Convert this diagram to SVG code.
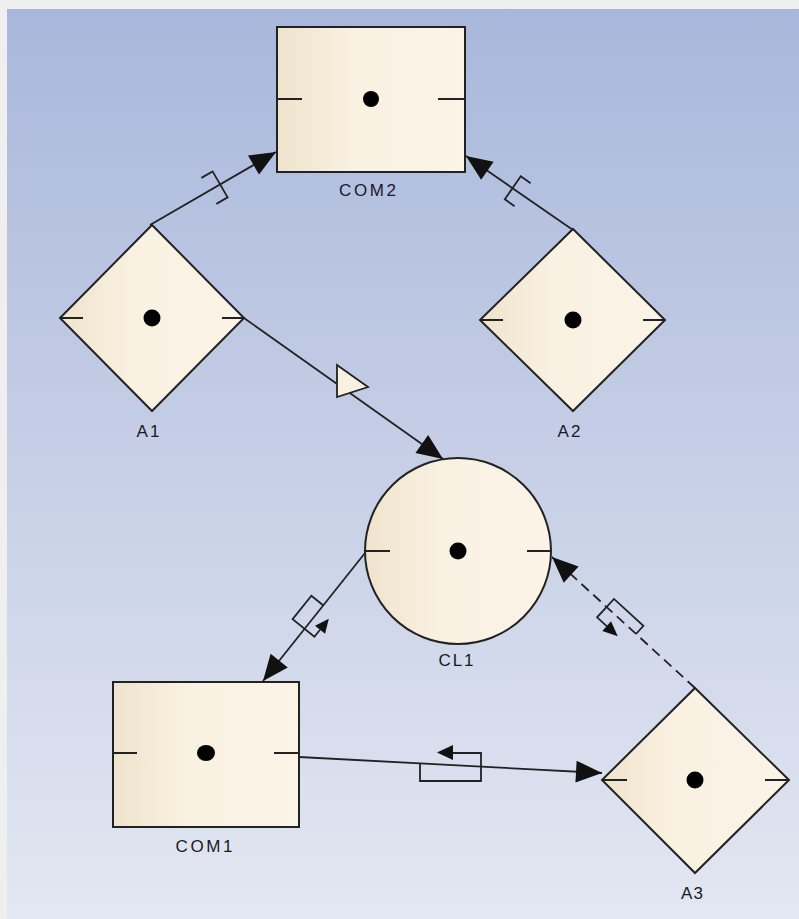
<svg xmlns="http://www.w3.org/2000/svg" width="799" height="919" viewBox="0 0 799 919">
<defs>
<linearGradient id="bg" x1="0" y1="0" x2="0" y2="1">
<stop offset="0" stop-color="#a8b7db"/>
<stop offset="0.5" stop-color="#c6cfe6"/>
<stop offset="1" stop-color="#e3e7f2"/>
</linearGradient>
<linearGradient id="nf" x1="0" y1="0" x2="1" y2="0">
<stop offset="0" stop-color="#efe3cc"/>
<stop offset="0.4" stop-color="#f9f1e2"/>
<stop offset="1" stop-color="#fbf4e7"/>
</linearGradient>
<marker id="arr" markerUnits="userSpaceOnUse" markerWidth="30" markerHeight="26" viewBox="-28 -13 30 26" refX="0" refY="0" orient="auto">
<path d="M0,0 L-26,-11 L-26,11 Z" fill="#111"/>
</marker>
<style>
.node{fill:url(#nf);stroke:#222;stroke-width:2}
.tick{stroke:#222;stroke-width:1.8;fill:none}
.dot{fill:#000}
.lbl{font-family:"Liberation Sans",Arial,sans-serif;font-size:17px;fill:#1a1a24;text-anchor:middle}
.con{stroke:#222;stroke-width:1.8;fill:none}
.sym{stroke:#222;stroke-width:1.8;fill:none}
.ah{fill:#111;stroke:none}
</style>
</defs>
<rect x="0" y="0" width="799" height="919" fill="#efefef"/>
<rect x="7" y="9" width="792" height="910" fill="url(#bg)"/>

<g id="COM2">
<rect class="node" x="277" y="27" width="188" height="145"/>
<path class="tick" d="M277,99 H302 M438,99 H465"/>
<circle class="dot" cx="371" cy="99" r="8"/>
<text class="lbl" x="367.5" y="196" textLength="57" lengthAdjust="spacing">COM2</text>
</g>

<g id="A1">
<polygon class="node" points="152,225 244,318 152,411 60,318"/>
<path class="tick" d="M60,318 H83 M222,318 H244"/>
<circle class="dot" cx="152" cy="318" r="8.5"/>
<text class="lbl" x="148" y="437" textLength="23" lengthAdjust="spacing">A1</text>
</g>

<g id="A2">
<polygon class="node" points="573,229 665,320 573,411 480,320"/>
<path class="tick" d="M480,320 H503 M643,320 H665"/>
<circle class="dot" cx="573" cy="320" r="8.5"/>
<text class="lbl" x="569" y="437" textLength="23" lengthAdjust="spacing">A2</text>
</g>

<g id="CL1">
<circle class="node" cx="458" cy="551" r="93"/>
<path class="tick" d="M365,551 H390 M527,551 H551"/>
<circle class="dot" cx="458" cy="551" r="8.5"/>
<text class="lbl" x="456" y="666" textLength="35" lengthAdjust="spacing">CL1</text>
</g>

<g id="COM1">
<rect class="node" x="113" y="682" width="186" height="145"/>
<path class="tick" d="M113,753 H137 M274,753 H299"/>
<ellipse class="dot" cx="206" cy="753" rx="9" ry="8"/>
<text class="lbl" x="204" y="852" textLength="57" lengthAdjust="spacing">COM1</text>
</g>

<g id="A3">
<polygon class="node" points="695,688 789,780 695,873 602,780"/>
<path class="tick" d="M602,780 H627 M765,780 H789"/>
<circle class="dot" cx="695" cy="780" r="8.5"/>
<text class="lbl" x="692" y="899" textLength="22" lengthAdjust="spacing">A3</text>
</g>

<g id="connectors">
<line class="con" x1="150" y1="225" x2="276" y2="152" marker-end="url(#arr)"/>
<path class="sym" d="M201.4,177.9 L212.6,171.4 L227.6,197.4 L216.4,203.9"/>

<line class="con" x1="573" y1="230" x2="466" y2="156" marker-end="url(#arr)"/>
<path class="sym" d="M530.6,183.2 L520.8,176.3 L504.8,199.3 L514.6,206.2"/>

<line class="con" x1="244" y1="318" x2="443" y2="459" marker-end="url(#arr)"/>
<polygon points="337,365 337,397 368,387" fill="#f8f1e2" stroke="#222" stroke-width="1.8"/>

<line class="con" x1="365" y1="553" x2="263" y2="681" marker-end="url(#arr)"/>
<path class="sym" d="M323.1,605.2 L311.4,595.8 L292.6,619.2 L314.4,636.8 L320,629.7"/>
<polygon class="ah" points="328.8,618.7 315,625.7 325.1,633.8"/>

<line class="con" x1="695" y1="688" x2="552" y2="557" stroke-dasharray="10 6" marker-end="url(#arr)"/>
<path class="sym" d="M636,634 L643.4,625.9 L614,598.9 L597.1,617.3 L606.7,626.1"/>
<polygon class="ah" points="617.8,636.2 611,621.3 602.3,630.9"/>

<line class="con" x1="299" y1="757" x2="602" y2="773" marker-end="url(#arr)"/>
<path class="sym" d="M420,763.5 L420,781 L481,781 L481,753 L453,753"/>
<polygon class="ah" points="437,752.5 453,745 453,760"/>
</g>
</svg>
